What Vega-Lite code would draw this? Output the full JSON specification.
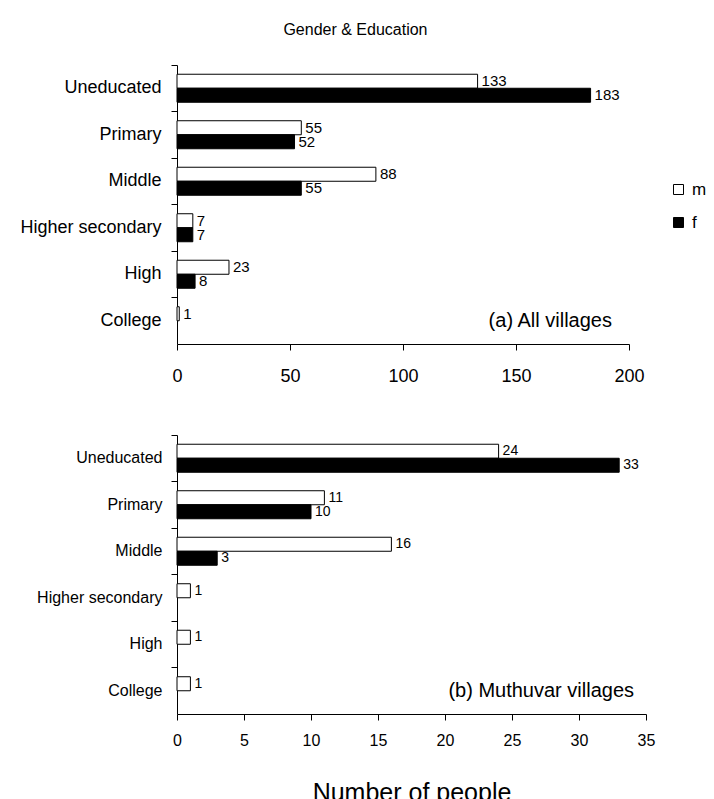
{
  "$schema": "https://vega.github.io/schema/vega-lite/v6.json",
  "autosize": {"type": "pad"},
  "padding": {"left": 19, "top": 21, "right": 5, "bottom": 5},
  "background": "white",
  "title": {"text": "Gender & Education", "fontSize": 16, "fontWeight": "normal", "font": "Liberation Sans", "color": "black", "anchor": "middle", "dx": -8, "offset": 27},
  "bounds": "flush",
  "spacing": 91,
  "config": {
    "view": {"stroke": null},
    "font": "Liberation Sans",
    "axis": {"domainColor": "black", "tickColor": "black", "labelColor": "black", "grid": false, "titleColor": "black", "labelFont": "Liberation Sans", "titleFont": "Liberation Sans", "titleFontWeight": "normal", "domainWidth": 1, "tickWidth": 1},
    "text": {"font": "Liberation Sans", "color": "black"}
  },
  "datasets": {
    "edu": [
      {"panel": "a", "edu": "Uneducated", "gender": "m", "n": 133},
      {"panel": "a", "edu": "Uneducated", "gender": "f", "n": 183},
      {"panel": "a", "edu": "Primary", "gender": "m", "n": 55},
      {"panel": "a", "edu": "Primary", "gender": "f", "n": 52},
      {"panel": "a", "edu": "Middle", "gender": "m", "n": 88},
      {"panel": "a", "edu": "Middle", "gender": "f", "n": 55},
      {"panel": "a", "edu": "Higher secondary", "gender": "m", "n": 7},
      {"panel": "a", "edu": "Higher secondary", "gender": "f", "n": 7},
      {"panel": "a", "edu": "High", "gender": "m", "n": 23},
      {"panel": "a", "edu": "High", "gender": "f", "n": 8},
      {"panel": "a", "edu": "College", "gender": "m", "n": 1},
      {"panel": "b", "edu": "Uneducated", "gender": "m", "n": 24},
      {"panel": "b", "edu": "Uneducated", "gender": "f", "n": 33},
      {"panel": "b", "edu": "Primary", "gender": "m", "n": 11},
      {"panel": "b", "edu": "Primary", "gender": "f", "n": 10},
      {"panel": "b", "edu": "Middle", "gender": "m", "n": 16},
      {"panel": "b", "edu": "Middle", "gender": "f", "n": 3},
      {"panel": "b", "edu": "Higher secondary", "gender": "m", "n": 1},
      {"panel": "b", "edu": "High", "gender": "m", "n": 1},
      {"panel": "b", "edu": "College", "gender": "m", "n": 1}
    ]
  },
  "vconcat": [
    {
      "width": 452,
      "height": 279,
      "layer": [
        {
          "data": {"name": "edu"},
          "transform": [{"filter": "datum.panel == 'a'"}],
          "mark": {"type": "bar", "stroke": "black", "strokeWidth": 1},
          "encoding": {
            "y": {"field": "edu", "type": "nominal", "scale": {"domain": ["Uneducated", "Primary", "Middle", "Higher secondary", "High", "College"], "paddingInner": 0, "paddingOuter": 0}, "axis": {"title": null, "labelFontSize": 18, "tickSize": 6, "labelPadding": 10, "bandPosition": 0}},
            "yOffset": {"field": "gender", "type": "nominal", "scale": {"domain": ["m", "f"], "paddingOuter": 0.66, "paddingInner": 0}},
            "x": {"field": "n", "type": "quantitative", "scale": {"domain": [0, 200], "nice": false}, "axis": {"values": [0, 50, 100, 150, 200], "title": null, "labelFontSize": 18, "tickSize": 6, "labelPadding": 17, "labelFlush": false}},
            "fill": {"field": "gender", "type": "nominal", "scale": {"domain": ["m", "f"], "range": ["white", "black"]}, "legend": {"orient": "none", "legendX": 493, "legendY": 116, "title": null, "symbolType": "square", "symbolSize": 100, "symbolStrokeColor": "black", "symbolStrokeWidth": 1, "labelFontSize": 17, "labelColor": "black", "labelFont": "Liberation Sans", "rowPadding": 15, "labelOffset": 5, "padding": 0}}
          }
        },
        {
          "data": {"name": "edu"},
          "transform": [{"filter": "datum.panel == 'a'"}],
          "mark": {"type": "text", "align": "left", "baseline": "middle", "dx": 4, "fontSize": 15},
          "encoding": {
            "y": {"field": "edu", "type": "nominal"},
            "yOffset": {"field": "gender", "type": "nominal"},
            "x": {"field": "n", "type": "quantitative"},
            "text": {"field": "n", "type": "quantitative"}
          }
        },
        {
          "data": {"values": [{"label": "(a) All villages"}]},
          "mark": {"type": "text", "align": "right", "baseline": "middle", "dx": -17, "fontSize": 20},
          "encoding": {
            "x": {"datum": 200, "type": "quantitative"},
            "y": {"datum": "College", "type": "nominal"},
            "text": {"field": "label"}
          }
        }
      ]
    },
    {
      "width": 469,
      "height": 279,
      "layer": [
        {
          "data": {"name": "edu"},
          "transform": [{"filter": "datum.panel == 'b'"}],
          "mark": {"type": "bar", "stroke": "black", "strokeWidth": 1},
          "encoding": {
            "y": {"field": "edu", "type": "nominal", "scale": {"domain": ["Uneducated", "Primary", "Middle", "Higher secondary", "High", "College"], "paddingInner": 0, "paddingOuter": 0}, "axis": {"title": null, "labelFontSize": 16, "tickSize": 6, "labelPadding": 9, "bandPosition": 0}},
            "yOffset": {"field": "gender", "type": "nominal", "scale": {"domain": ["m", "f"], "paddingOuter": 0.66, "paddingInner": 0}},
            "x": {"field": "n", "type": "quantitative", "scale": {"domain": [0, 35], "nice": false}, "axis": {"values": [0, 5, 10, 15, 20, 25, 30, 35], "title": "Number of people", "titleFontSize": 25, "titlePadding": 32, "labelFontSize": 16, "tickSize": 6, "labelPadding": 12, "labelFlush": false}},
            "fill": {"field": "gender", "type": "nominal", "scale": {"domain": ["m", "f"], "range": ["white", "black"]}, "legend": null}
          }
        },
        {
          "data": {"name": "edu"},
          "transform": [{"filter": "datum.panel == 'b'"}],
          "mark": {"type": "text", "align": "left", "baseline": "middle", "dx": 4, "fontSize": 14},
          "encoding": {
            "y": {"field": "edu", "type": "nominal"},
            "yOffset": {"field": "gender", "type": "nominal"},
            "x": {"field": "n", "type": "quantitative"},
            "text": {"field": "n", "type": "quantitative"}
          }
        },
        {
          "data": {"values": [{"label": "(b) Muthuvar villages"}]},
          "mark": {"type": "text", "align": "right", "baseline": "middle", "dx": -12, "fontSize": 20},
          "encoding": {
            "x": {"datum": 35, "type": "quantitative"},
            "y": {"datum": "College", "type": "nominal"},
            "text": {"field": "label"}
          }
        }
      ]
    }
  ],
  "resolve": {"scale": {"x": "independent", "y": "independent"}}
}
